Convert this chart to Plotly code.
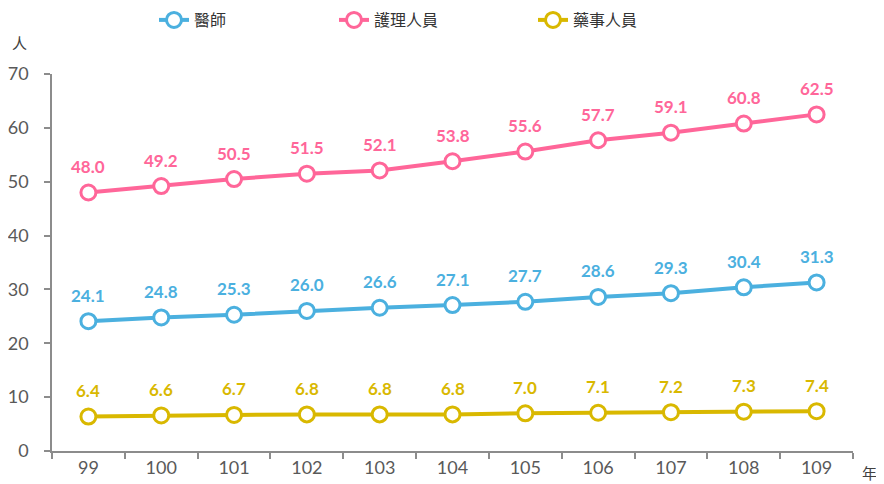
import plotly.graph_objects as go

years = ["99", "100", "101", "102", "103", "104", "105", "106", "107", "108", "109"]
doctors = [24.1, 24.8, 25.3, 26.0, 26.6, 27.1, 27.7, 28.6, 29.3, 30.4, 31.3]
nurses = [48.0, 49.2, 50.5, 51.5, 52.1, 53.8, 55.6, 57.7, 59.1, 60.8, 62.5]
pharm = [6.4, 6.6, 6.7, 6.8, 6.8, 6.8, 7.0, 7.1, 7.2, 7.3, 7.4]
names = ["醫師", "護理人員", "藥事人員"]
colors = ["#4BB0DF", "#FF6699", "#D9B800"]
series = [doctors, nurses, pharm]
legend_ids = ["legend", "legend2", "legend3"]

# the page body adds an 8px offset; figure coordinates below are in figure pixels
OFF = 8
W, H = 884 - OFF, 484 - OFF
L, R, T, B = 52 - OFF, 31, 74 - OFF, 33
pw = W - L - R
ph = H - T - B
legend_x = [158 - OFF - 4, 338 - OFF - 4, 537 - OFF - 4]

fig = go.Figure()
annotations = []
for name, col, vals, lid in zip(names, colors, series, legend_ids):
    fig.add_trace(go.Scatter(
        x=years, y=vals, name=name, mode="lines+markers",
        line=dict(color=col, width=4),
        marker=dict(symbol="circle", size=15, color="white", line=dict(color=col, width=3)),
        legend=lid, cliponaxis=False, showlegend=True,
    ))
    for i, yv in enumerate(vals):
        annotations.append(dict(
            x=i, y=yv, xref="x", yref="y", text=f"{yv:.1f}", showarrow=False, yshift=26,
            font=dict(family="Lato, Open Sans, sans-serif", size=17, color=col, weight="bold"),
        ))

annotations.append(dict(xref="paper", yref="paper", x=(19 - OFF - L) / pw, y=(H - (42 - OFF) - B) / ph,
                        xanchor="center", yanchor="middle",
                        text="人", showarrow=False,
                        font=dict(family="Noto Sans CJK TC", size=15, color="#404040")))
annotations.append(dict(xref="paper", yref="paper", x=(869 - OFF - L) / pw, y=(H - (472 - OFF) - B) / ph,
                        xanchor="center", yanchor="middle",
                        text="年", showarrow=False,
                        font=dict(family="Noto Sans CJK TC", size=15, color="#404040")))

layout_legends = {}
for lid, lx in zip(legend_ids, legend_x):
    layout_legends[lid] = dict(
        orientation="h", x=(lx - L) / pw, xanchor="left",
        y=(H - (20 - OFF) - B) / ph, yanchor="middle",
        bgcolor="rgba(0,0,0,0)",
        font=dict(family="Noto Sans CJK TC", size=16, color="#333333"),
        itemwidth=30,
    )

fig.update_layout(
    width=W, height=H,
    showlegend=True,
    margin=dict(l=L, r=R, t=T, b=B, autoexpand=False),
    plot_bgcolor="white", paper_bgcolor="white",
    annotations=annotations,
    **layout_legends,
    xaxis=dict(
        type="category", range=[-0.5, 10.5], tickson="boundaries",
        showline=True, linecolor="#8C8C8C", linewidth=1.5,
        ticks="outside", ticklen=6, tickcolor="#8C8C8C", tickwidth=1.5,
        showgrid=False, zeroline=False,
        tickfont=dict(family="Lato, Open Sans, sans-serif", size=18, color="#595959"),
    ),
    yaxis=dict(
        range=[0, 70], dtick=10,
        showline=True, linecolor="#8C8C8C", linewidth=1.5,
        ticks="outside", ticklen=6, tickcolor="#8C8C8C", tickwidth=1.5,
        ticklabelstandoff=12,
        showgrid=False, zeroline=False,
        tickfont=dict(family="Lato, Open Sans, sans-serif", size=18, color="#595959"),
    ),
)

fig.write_html("out.html")
